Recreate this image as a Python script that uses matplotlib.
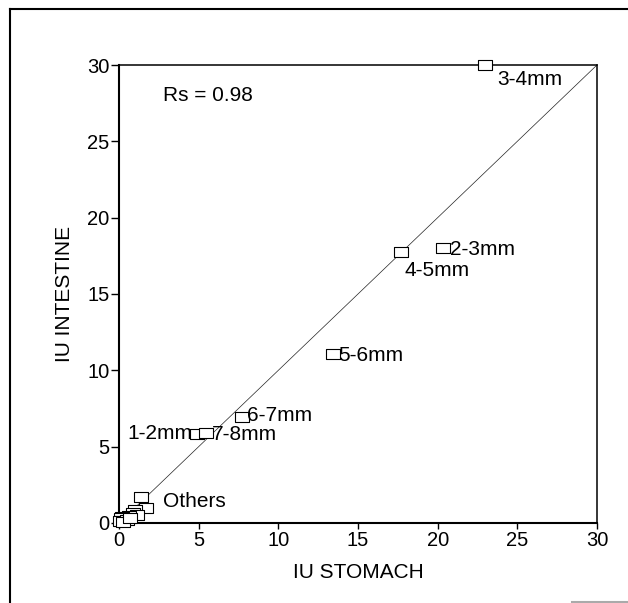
import numpy as np
import matplotlib
matplotlib.use("Agg")
import matplotlib.pyplot as plt
from matplotlib.path import Path
from matplotlib.lines import Line2D

plt.rcParams['font.family'] = ['Liberation Sans', 'DejaVu Sans']

# size classes (labelled points)
sizes = ['1-2mm', '2-3mm', '3-4mm', '4-5mm', '5-6mm', '6-7mm', '7-8mm']
iu_stomach = [4.9, 20.35, 23.0, 17.7, 13.45, 7.7, 5.45]
iu_intestine = [5.85, 18.0, 30.0, 17.75, 11.05, 6.95, 5.9]

# "Others" cluster near the origin
others_stomach = [1.35, 1.7, 1.0, 0.9, 1.1, 0.6, 0.4, 0.3, 0.2, 0.1, 0.15, 0.05, 0.5, 0.25, 0.7]
others_intestine = [1.7, 1.0, 0.85, 0.65, 0.55, 0.45, 0.35, 0.25, 0.4, 0.3, 0.15, 0.1, 0.2, 0.05, 0.3]

ticks = [0, 5, 10, 15, 20, 25, 30]

# label offsets in pixels (dx, dy, ha)
label_offsets = {
    '1-2mm': (-5, 0, 'right'),
    '2-3mm': (7, -1, 'left'),
    '3-4mm': (12, -14, 'left'),
    '4-5mm': (3, -18, 'left'),
    '5-6mm': (5, -1, 'left'),
    '6-7mm': (5, 1, 'left'),
    '7-8mm': (6, -2, 'left'),
}

# wide open rectangle marker
rect = Path([(-1.45, -1), (1.45, -1), (1.45, 1), (-1.45, 1), (-1.45, -1)],
            [Path.MOVETO, Path.LINETO, Path.LINETO, Path.LINETO, Path.CLOSEPOLY])

fig = plt.figure(figsize=(6.28, 6.03), dpi=100)
ax = fig.add_axes([0.1895, 0.1327, 0.7611, 0.7595])

# line of identity
ax.plot([0, 30], [0, 30], color='#222222', lw=0.5, zorder=1)

ax.plot(others_stomach, others_intestine, linestyle='none', marker=rect, ms=9.5,
        mfc='white', mec='black', mew=0.8, clip_on=False, zorder=3)
ax.plot(iu_stomach, iu_intestine, linestyle='none', marker=rect, ms=9.5,
        mfc='white', mec='black', mew=0.8, clip_on=False, zorder=3)

for name, xs, ys in zip(sizes, iu_stomach, iu_intestine):
    dx, dy, ha = label_offsets[name]
    ax.annotate(name, (xs, ys), xytext=(dx, dy), textcoords='offset pixels',
                ha=ha, va='center', fontsize=15)

ax.text(2.76, 1.38, 'Others', ha='left', va='center', fontsize=15)
ax.text(2.76, 28.0, 'Rs = 0.98', ha='left', va='center', fontsize=15)

ax.set_xlim(0, 30)
ax.set_ylim(0, 30)
ax.set_xticks(ticks)
ax.set_yticks(ticks)
ax.tick_params(axis='y', direction='out', length=6, width=1, labelsize=14.5, pad=1)
ax.tick_params(axis='x', direction='out', length=4, width=1, labelsize=14.5, pad=2)
ax.set_xlabel('IU STOMACH', fontsize=15, labelpad=9)
ax.set_ylabel('IU INTESTINE', fontsize=15, labelpad=9)

for side in ['left', 'bottom']:
    ax.spines[side].set_linewidth(1.5)
for side in ['top', 'right']:
    ax.spines[side].set_linewidth(1.1)

# scanned page frame
fig.add_artist(Line2D([10 / 628, 10 / 628], [0, 1 - 9 / 603], transform=fig.transFigure,
                      color='black', lw=1.5))
fig.add_artist(Line2D([10 / 628, 1], [1 - 9 / 603, 1 - 9 / 603], transform=fig.transFigure,
                      color='black', lw=1.5))
fig.add_artist(Line2D([572 / 628, 1], [1.5 / 603, 1.5 / 603], transform=fig.transFigure,
                      color='#aaaaaa', lw=1.5))

fig.savefig('out.png', dpi=100)
